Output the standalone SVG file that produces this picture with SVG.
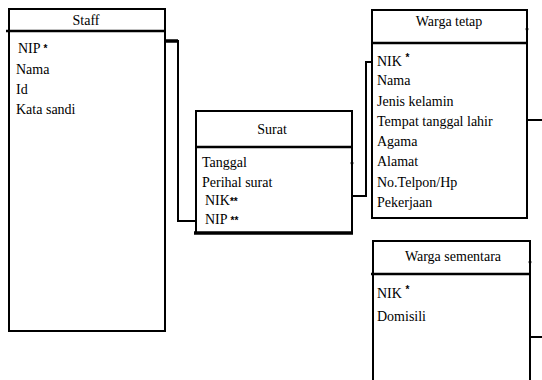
<svg xmlns="http://www.w3.org/2000/svg" width="542" height="380" viewBox="0 0 542 380">
<style>
.box{fill:#fff;stroke:#000;stroke-width:2}
.hd{stroke:#000;stroke-width:2.5}
text{font-family:'Liberation Serif','Times New Roman','DejaVu Serif',serif;font-size:14px;fill:#000}
.c{text-anchor:middle}
.a{font-family:'Liberation Sans',Arial,sans-serif;font-size:10px;font-weight:bold}
.con{fill:none;stroke:#000;stroke-width:2}
</style>
<rect width="542" height="380" fill="#fff"/>
<g id="connectors">
<path class="con" d="M165,41 H178 V221 H196"/>
<line x1="165" y1="41" x2="178" y2="41" stroke="#000" stroke-width="3.5"/>
<path class="con" d="M352,196 H366 V62 H372"/>
<line x1="527" y1="120" x2="542" y2="120" stroke="#000" stroke-width="2"/>
<line x1="530" y1="337" x2="542" y2="337" stroke="#000" stroke-width="2"/>
</g>
<g id="staff">
<rect class="box" x="9" y="9" width="156" height="322"/>
<line class="hd" x1="6" y1="31" x2="166" y2="31"/>
<text class="c" x="86" y="25">Staff</text>
<text x="18" y="53">NIP <tspan class="a" dy="-1">*</tspan></text>
<text x="16" y="74">Nama</text>
<text x="16" y="94">Id</text>
<text x="16" y="114">Kata sandi</text>
</g>
<g id="surat">
<rect class="box" x="196" y="111" width="156" height="122"/>
<line class="hd" x1="196" y1="147" x2="352" y2="147"/>
<line x1="194" y1="233" x2="353" y2="233" stroke="#000" stroke-width="3.5"/>
<circle cx="352" cy="163" r="1.5"/>
<text class="c" x="272" y="134">Surat</text>
<text x="202" y="167">Tanggal</text>
<text x="202" y="187">Perihal surat</text>
<text x="205" y="205">NIK<tspan class="a">**</tspan></text>
<text x="205" y="224">NIP <tspan class="a">**</tspan></text>
</g>
<g id="warga-tetap">
<rect class="box" x="372" y="10" width="155" height="208"/>
<line class="hd" x1="371" y1="43" x2="528" y2="43"/>
<circle cx="527" cy="29" r="1.5"/>
<text class="c" x="449" y="26">Warga tetap</text>
<text x="377" y="66">NIK <tspan class="a" dy="-5">*</tspan></text>
<text x="377" y="85">Nama</text>
<text x="377" y="106">Jenis kelamin</text>
<text x="377" y="126">Tempat tanggal lahir</text>
<text x="377" y="146">Agama</text>
<text x="377" y="166">Alamat</text>
<text x="377" y="187">No.Telpon/Hp</text>
<text x="377" y="207">Pekerjaan</text>
</g>
<g id="warga-sementara">
<path class="box" d="M373,382 V241 H530 V382"/>
<line class="hd" x1="371" y1="274" x2="531" y2="274"/>
<circle cx="530" cy="262" r="1.5"/>
<text class="c" x="453" y="261">Warga sementara</text>
<text x="377" y="298">NIK <tspan class="a" dy="-5">*</tspan></text>
<text x="377" y="321">Domisili</text>
</g>
</svg>
